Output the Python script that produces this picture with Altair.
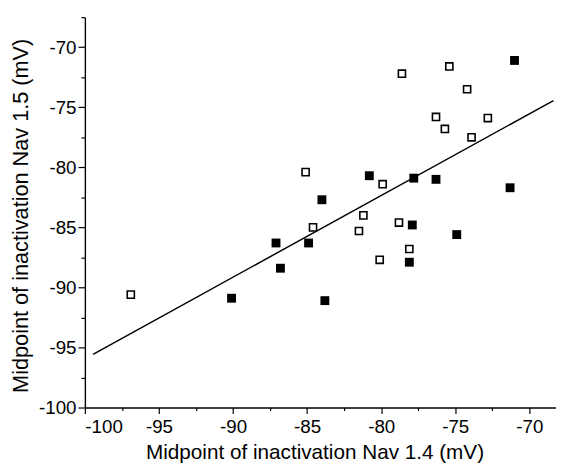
import altair as alt
import pandas as pd

# Filled squares (Nav1.4 midpoint, Nav1.5 midpoint)
filled_x = [-71.0, -80.8, -77.8, -76.3, -71.3, -84.0, -77.9, -74.9, -87.1, -84.9, -86.8, -78.1, -90.1, -83.8]
filled_y = [-71.1, -80.7, -80.9, -81.0, -81.7, -82.7, -84.8, -85.6, -86.3, -86.3, -88.4, -87.9, -90.9, -91.1]

# Open squares
open_x = [-78.6, -75.4, -74.2, -76.3, -75.7, -72.8, -73.9, -85.1, -79.9, -81.2, -84.6, -81.5, -78.8, -78.1, -80.1, -96.9]
open_y = [-72.2, -71.6, -73.5, -75.8, -76.8, -75.9, -77.5, -80.4, -81.4, -84.0, -85.0, -85.3, -84.6, -86.8, -87.7, -90.6]

# Fitted line
fit_x = [-99.45, -68.37]
fit_y = [-95.57, -74.44]

major_x = [-100, -95, -90, -85, -80, -75, -70]
minor_x = [-97.5, -92.5, -87.5, -82.5, -77.5, -72.5]
major_y = [-100, -95, -90, -85, -80, -75, -70]
minor_y = [-97.5, -92.5, -87.5, -82.5, -77.5, -72.5, -67.5]

x_title = "Midpoint of inactivation Nav 1.4 (mV)"
y_title = "Midpoint of inactivation Nav 1.5 (mV)"

FONT = "Liberation Sans"
W, H = 478, 396

df_f = pd.DataFrame({"x": filled_x, "y": filled_y})
df_o = pd.DataFrame({"x": open_x, "y": open_y})
df_l = pd.DataFrame({"x": fit_x, "y": fit_y})

xs = alt.Scale(domain=[-100, -68.2], nice=False, zero=False)
ys = alt.Scale(domain=[-100, -67.5], nice=False, zero=False)

x_major_axis = alt.Axis(
    orient="bottom", values=major_x, labelExpr="datum.value + ''",
    title=x_title, tickSize=6, tickWidth=1.2, domainWidth=1.4, labelPadding=4,
    labelFontSize=19, titleFontSize=21, labelFont=FONT, titleFont=FONT,
    labelColor="black", titleColor="black", domainColor="black", tickColor="black",
    titleFontWeight="normal", grid=False, titleX=233, titleY=52,
    titleBaseline="alphabetic", titleAlign="center",
)
y_major_axis = alt.Axis(
    orient="left", values=major_y, labelExpr="datum.value + ''",
    title=y_title, tickSize=7, tickWidth=1.2, domainWidth=1.4, labelPadding=2,
    labelFontSize=19, titleFontSize=22, labelFont=FONT, titleFont=FONT,
    labelColor="black", titleColor="black", domainColor="black", tickColor="black",
    titleFontWeight="normal", grid=False, titleX=-65, titleY=201,
    titleBaseline="middle", titleAlign="center",
)
x_minor_axis = alt.Axis(orient="bottom", values=minor_x, labels=False, title=None,
                        domain=False, tickSize=3, tickWidth=1.2, tickColor="black", grid=False)
y_minor_axis = alt.Axis(orient="left", values=minor_y, labels=False, title=None,
                        domain=False, tickSize=4, tickWidth=1.2, tickColor="black", grid=False)

filled = alt.Chart(df_f).mark_square(filled=True, size=81, color="black", opacity=1).encode(
    x=alt.X("x:Q", scale=xs, axis=x_major_axis),
    y=alt.Y("y:Q", scale=ys, axis=y_major_axis),
)
opened = alt.Chart(df_o).mark_square(filled=True, size=52, fill="white", stroke="black",
                                      strokeWidth=1.6, opacity=1).encode(
    x=alt.X("x:Q", scale=xs, axis=x_minor_axis),
    y=alt.Y("y:Q", scale=ys, axis=y_minor_axis),
)
line = alt.Chart(df_l).mark_line(color="black", strokeWidth=1.5).encode(
    x=alt.X("x:Q", scale=xs, axis=None),
    y=alt.Y("y:Q", scale=ys, axis=None),
)

chart = alt.layer(line, filled, opened).resolve_scale(
    x="shared", y="shared"
).resolve_axis(
    x="independent", y="independent"
).properties(
    width=W, height=H,
    autosize=alt.AutoSizeParams(type="none"),
    padding={"left": 78, "top": 6, "right": 0, "bottom": 57},
    background="white",
).configure_view(stroke=None)

chart.save("out.html", embed_options={"renderer": "svg", "actions": False})
